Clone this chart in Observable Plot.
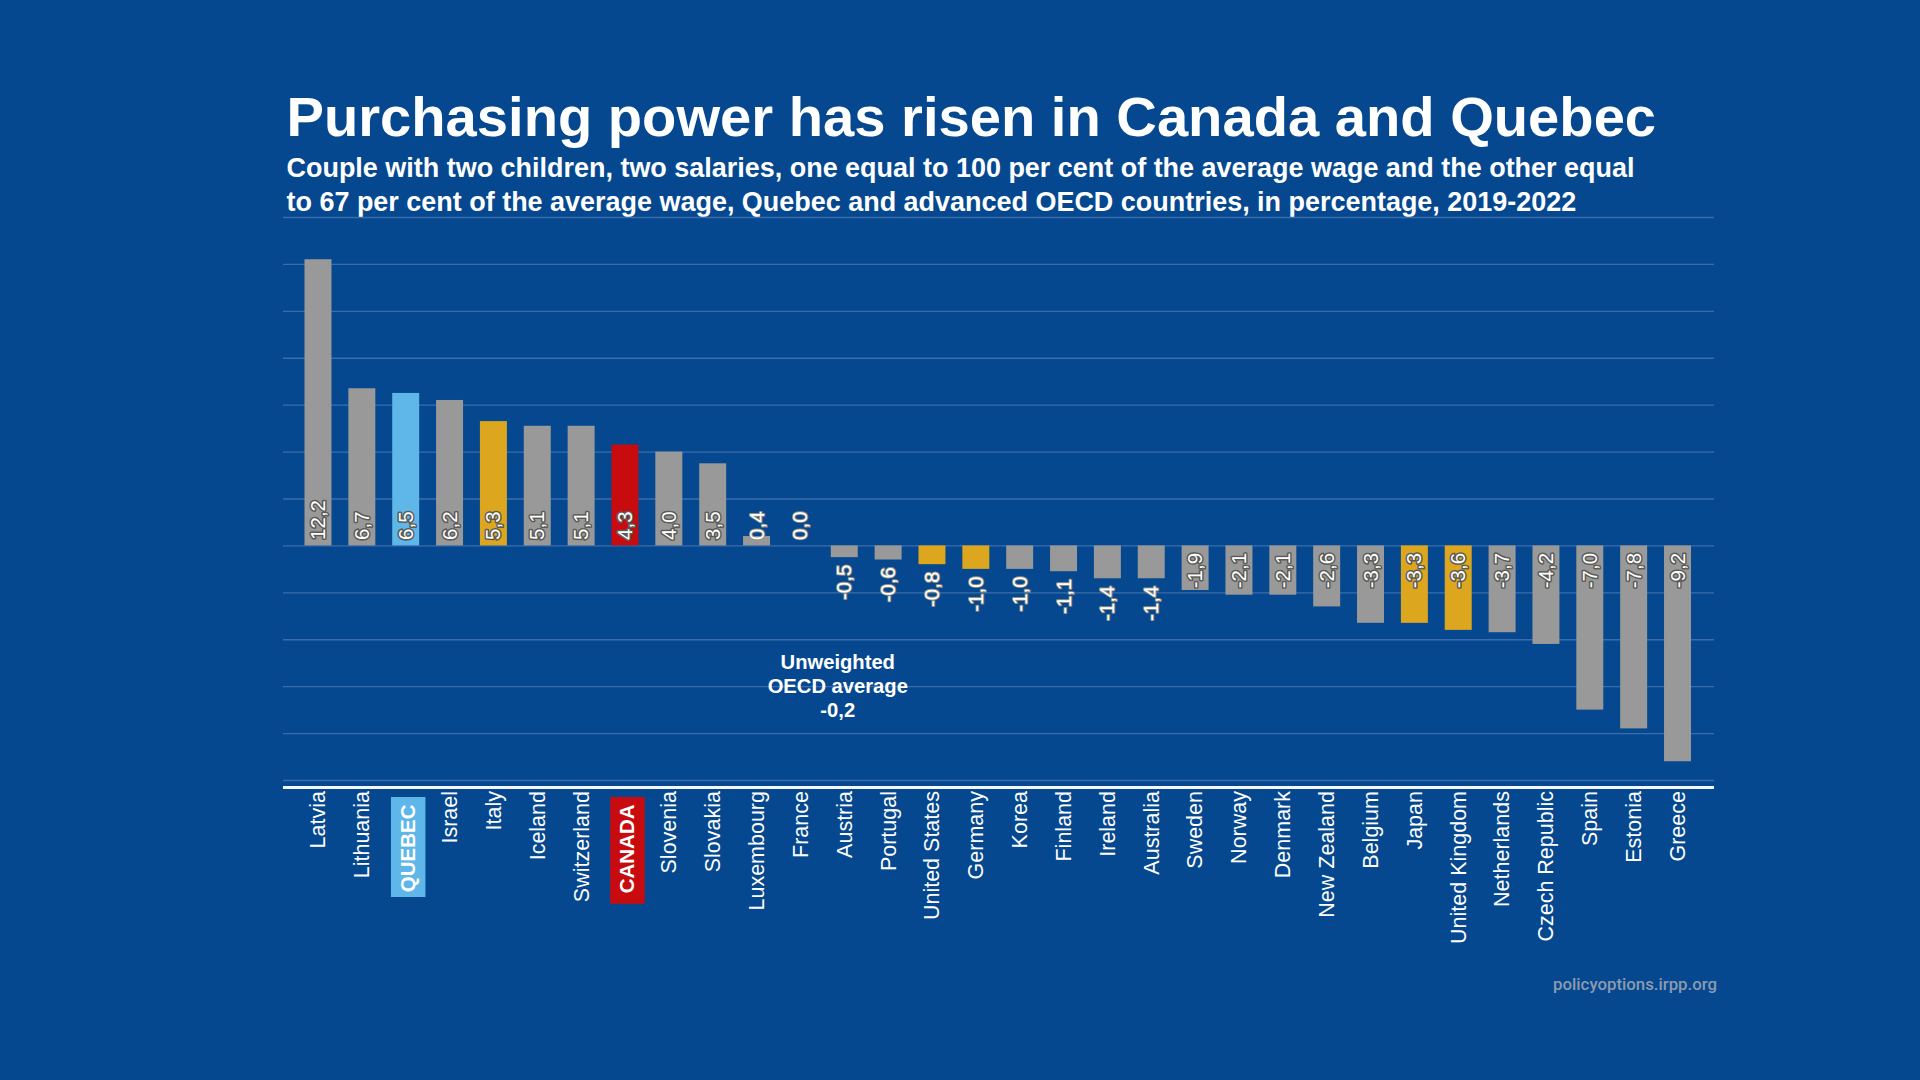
<!DOCTYPE html>
<html>
<head>
<meta charset="utf-8">
<script src="https://cdn.jsdelivr.net/npm/d3@7"></script>
<script src="https://cdn.jsdelivr.net/npm/@observablehq/plot@0.6"></script>
<style>
html,body{margin:0;padding:0;background:#05488f;width:1920px;height:1080px;overflow:hidden}
#head{height:210.5px;box-sizing:border-box;padding:85px 0 0 286.5px;color:#fff;font-family:"Liberation Sans",Arial,sans-serif;font-weight:700}
#title{font-size:56.15px;line-height:64px;white-space:nowrap}
#sub{font-size:26.96px;line-height:34px;white-space:pre;margin-top:2px}
#chart svg{display:block;background:transparent}
#credit{position:relative;width:1717px;text-align:right;color:#8b9ab0;font-family:Roboto,sans-serif;font-weight:500;font-size:16.8px;line-height:20px;margin-top:3px}
</style>
</head>
<body>
<div id="head">
<div id="title">Purchasing power has risen in Canada and Quebec</div>
<div id="sub">Couple with two children, two salaries, one equal to 100 per cent of the average wage and the other equal
to 67 per cent of the average wage, Quebec and advanced OECD countries, in percentage, 2019-2022</div>
</div>
<div id="chart"></div>
<div id="credit">policyoptions.irpp.org</div>
<script>
const countries = ["Latvia","Lithuania","QUEBEC","Israel","Italy","Iceland","Switzerland","CANADA","Slovenia","Slovakia","Luxembourg","France","Austria","Portugal","United States","Germany","Korea","Finland","Ireland","Australia","Sweden","Norway","Denmark","New Zealand","Belgium","Japan","United Kingdom","Netherlands","Czech Republic","Spain","Estonia","Greece"];
const values = [12.2,6.7,6.5,6.2,5.3,5.1,5.1,4.3,4.0,3.5,0.4,0.0,-0.5,-0.6,-0.8,-1.0,-1.0,-1.1,-1.4,-1.4,-1.9,-2.1,-2.1,-2.6,-3.3,-3.3,-3.6,-3.7,-4.2,-7.0,-7.8,-9.2];
const g7 = ["Italy","United States","Germany","Japan","United Kingdom"];
const gridTicks = [14,12,10,8,6,4,2,0,-2,-4,-6,-8,-10];
const highlights = [{name:"QUEBEC",colour:"#5fb6e8",boxFrom:-10.72,boxTo:-14.99},{name:"CANADA",colour:"#c80b0f",boxFrom:-10.72,boxTo:-15.27}];
const groupNames = ["other","g7","QUEBEC","CANADA"];
const groupColours = ["#999999","#dca61f","#5fb6e8","#c80b0f"];
const oecdNote = "Unweighted\nOECD average\n-0,2";

const table = countries.map((country,i)=>({
  country,
  value: values[i],
  group: g7.includes(country) ? "g7" : (country==="QUEBEC"||country==="CANADA") ? country : "other",
  label: d3.format(".1f")(values[i]).replace(".",",").replace("−","-")
}));
const positives = table.filter(d=>d.value>=1);
const smallPositives = table.filter(d=>d.value>=0&&d.value<1);
const negatives = table.filter(d=>d.value<=-1.5);
const smallNegatives = table.filter(d=>d.value<0&&d.value>-1.5);
const plain = countries.filter(c=>c!=="QUEBEC"&&c!=="CANADA");

const labelStyle = {rotate:-90,fill:"#fff",paintOrder:"stroke",fontSize:20.5,fontFamily:"Liberation Sans, Arial, sans-serif",lineAnchor:"middle"};
const onBar = {stroke:"#5a5a56",strokeWidth:3};
const offBar = {stroke:"#8f8c80",strokeWidth:2};

const plot = Plot.plot({
  width:1920,
  height:760,
  marginTop:6,
  marginBottom:191,
  marginLeft:283,
  marginRight:206,
  style:{background:"transparent",fontFamily:"Liberation Sans, Arial, sans-serif"},
  x:{domain:countries,range:[304.5,1691],paddingInner:0.385,paddingOuter:0,round:false,label:null},
  y:{domain:[-10,14],axis:null,label:null},
  color:{domain:groupNames,range:groupColours,legend:false},
  marks:[
    Plot.gridY({ticks:gridTicks,stroke:"#3a6cab",strokeOpacity:1,strokeWidth:1.4}),
    Plot.ruleY([-10.3],{stroke:"#f4f8fc",strokeWidth:3}),
    Plot.barY(table,{x:"country",y:"value",fill:"group"}),
    Plot.text(positives,{x:"country",y:0,text:"label",dy:-6,textAnchor:"start",...labelStyle,...onBar}),
    Plot.text(smallPositives,{x:"country",y:0,text:"label",dy:-6,textAnchor:"start",...labelStyle,...offBar}),
    Plot.text(negatives,{x:"country",y:0,text:"label",dy:7,textAnchor:"end",...labelStyle,...onBar}),
    Plot.text(smallNegatives,{x:"country",y:"value",text:"label",dy:7,textAnchor:"end",...labelStyle,...offBar}),
    Plot.ruleX(highlights,{x:"name",y1:"boxFrom",y2:"boxTo",stroke:"colour",strokeWidth:34.5,dx:2}),
    Plot.axisX({ticks:plain,tickRotate:-90,tickSize:0,tickPadding:10.5,fontSize:21.5,fill:"#fff",stroke:null,label:null,anchor:"bottom",fontFamily:"Liberation Sans, Arial, sans-serif"}),
    Plot.axisX({ticks:["QUEBEC","CANADA"],tickRotate:-90,tickSize:0,tickPadding:24,fontSize:20.5,fontWeight:"bold",fill:"#fff",stroke:null,label:null,anchor:"bottom",dx:2,fontFamily:"Liberation Sans, Arial, sans-serif"}),
    Plot.text([oecdNote],{x:()=>"Austria",y:()=>-5.93,dx:-7,text:d=>d,fill:"#fff",fontWeight:"bold",fontSize:20.2,lineHeight:1.19,textAnchor:"middle",fontFamily:"Liberation Sans, Arial, sans-serif"})
  ]
});
document.getElementById("chart").appendChild(plot);
</script>
</body>
</html>
